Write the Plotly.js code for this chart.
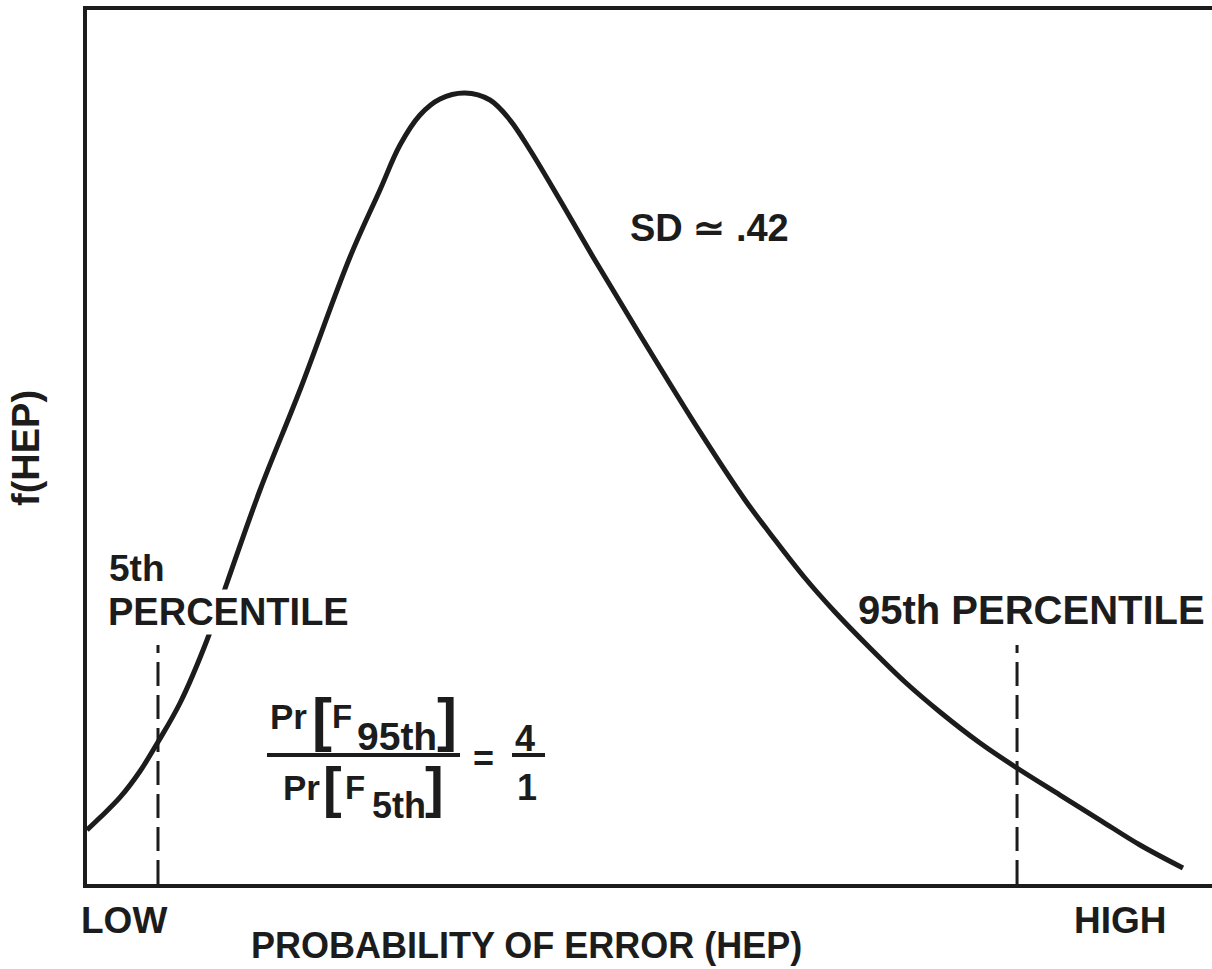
<!DOCTYPE html>
<html>
<head>
<meta charset="utf-8">
<script src="https://cdn.plot.ly/plotly-3.0.1.min.js"></script>
<style>
html,body{margin:0;padding:0;background:#fff;}
#chart{width:1212px;height:969px;}
</style>
</head>
<body>
<div id="chart"></div>
<script>
// Distribution curve f(HEP), arbitrary units (x: 0..100 low->high, y: 0..100)
const hepX = [0, 1.16, 2.93, 4.71, 6.31, 8.27, 10.67, 12.44, 15.38, 18.93, 23.38, 26.04, 27.82, 29.6, 31.38, 33.6, 35.82, 37.6, 39.38, 42.04, 44.98, 49.16, 54.49, 58.49, 61.16, 63.82, 66.49, 69.6, 72.71, 75.82, 79.38, 82.67, 86.49, 90.04, 93.6, 97.42];
const fHEP = [6.18, 7.6, 9.9, 12.9, 16.25, 20.71, 27.92, 34.44, 45.08, 56.52, 71.74, 79.41, 84.55, 87.99, 89.82, 90.5, 89.7, 87.41, 83.98, 78.26, 71.74, 62.81, 51.72, 43.94, 39.36, 35.01, 31.12, 27.0, 23.11, 19.68, 16.13, 13.27, 10.18, 7.32, 4.46, 1.83];
// Percentile markers
const pctNames = ['5th', '95th'];
const pctX = [6.31, 82.67];
const pctTop = [27.35, 27.35];
// Axis end labels
const endLabels = ['LOW', 'HIGH'];
const endLabelPx = [124, 1120];

const FONT = 'Liberation Sans, Arial, Helvetica, sans-serif';
const INK = '#1c1c1c';
// pixel -> paper helpers for placing text
const L = 87, T = 10, W = 1125, H = 874;
const PX = px => (px - L) / W;
const PY = py => (T + H - py) / H;

const traces = [{
  x: hepX, y: fHEP, type: 'scatter', mode: 'lines',
  line: {color: INK, width: 5, shape: 'spline', smoothing: 1},
  hoverinfo: 'skip', showlegend: false
}];
pctX.forEach((px, i) => {
  traces.push({
    x: [px, px], y: [0, pctTop[i]], type: 'scatter', mode: 'lines',
    line: {color: INK, width: 3, dash: '24px,9px'},
    hoverinfo: 'skip', showlegend: false, name: pctNames[i]
  });
});

function ann(text, px, py, size, extra) {
  return Object.assign({
    text: text, x: PX(px), y: PY(py), xref: 'paper', yref: 'paper',
    showarrow: false, xanchor: 'center', yanchor: 'middle',
    font: {family: FONT, size: size, color: INK, weight: 'bold'}
  }, extra || {});
}

const annotations = [
  ann('<b>PROBABILITY OF ERROR (HEP)</b>', 526, 945, 36),
  ann('<b>f(HEP)</b>', 26, 448, 38, {textangle: -90}),
  ann('<b>SD \u2243 .42</b>', 709, 228, 38),
  ann('<b>5th</b>', 107, 568, 37, {xanchor: 'left'}),
  ann('<b>PERCENTILE</b>', 106, 612, 38, {xanchor: 'left', bgcolor: '#ffffff', borderpad: 1}),
  ann('<b>95th PERCENTILE</b>', 1031, 610, 40),
  // fraction Pr[F95th] / Pr[F5th] = 4/1
  ann('<b>Pr</b>', 288, 716, 35),
  ann('<b>[</b>', 322, 719, 60),
  ann('<b>F</b>', 342, 716, 33),
  ann('<b>95th</b>', 397, 737, 39),
  ann('<b>]</b>', 447, 719, 60),
  ann('<b>Pr</b>', 301, 787, 35),
  ann('<b>[</b>', 332, 786, 56),
  ann('<b>F</b>', 355, 787, 33),
  ann('<b>5th</b>', 399, 805, 36),
  ann('<b>]</b>', 434, 786, 56),
  ann('<b>=</b>', 483, 758, 36),
  ann('<b>4</b>', 525, 738, 36),
  ann('<b>1</b>', 527, 787, 36)
];
endLabels.forEach((t, i) => {
  annotations.push(ann('<b>' + t + '</b>', endLabelPx[i], 921, 37));
});

const shapes = [
  {type: 'line', xref: 'paper', yref: 'paper', x0: PX(267), x1: PX(460), y0: PY(755), y1: PY(755), line: {color: INK, width: 4}},
  {type: 'line', xref: 'paper', yref: 'paper', x0: PX(512), x1: PX(545), y0: PY(755), y1: PY(755), line: {color: INK, width: 4}}
];

const layout = {
  width: 1212, height: 969,
  margin: {l: L, r: 0, t: T, b: 969 - T - H},
  paper_bgcolor: '#ffffff', plot_bgcolor: '#ffffff',
  showlegend: false,
  xaxis: {range: [0, 100], showgrid: false, zeroline: false, showticklabels: false, ticks: '',
          showline: true, linecolor: INK, linewidth: 4, mirror: true},
  yaxis: {range: [0, 100], showgrid: false, zeroline: false, showticklabels: false, ticks: '',
          showline: true, linecolor: INK, linewidth: 4},
  annotations: annotations,
  shapes: shapes
};

Plotly.newPlot('chart', traces, layout, {staticPlot: true, displayModeBar: false});
</script>
</body>
</html>
